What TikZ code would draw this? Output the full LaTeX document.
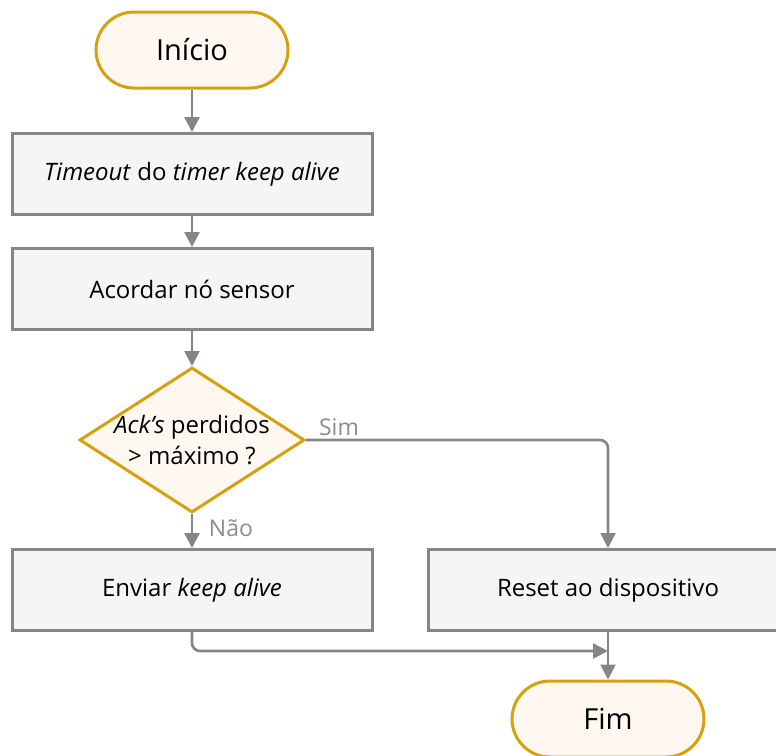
\documentclass[tikz,border=0pt]{standalone}
\usepackage{fontspec}
\setmainfont{Open Sans}
\usetikzlibrary{shapes.geometric,arrows.meta}
\definecolor{linegray}{HTML}{858585}
\definecolor{boxfill}{HTML}{F5F5F5}
\definecolor{gold}{HTML}{D6A00E}
\definecolor{cream}{HTML}{FFF8F0}
\definecolor{labelgray}{HTML}{8C8C8C}
\tikzset{
  terminal/.style={draw=gold, fill=cream, line width=3pt, rounded corners=38pt,
    minimum width=192pt, minimum height=76pt, inner sep=0pt, font=\fontsize{29}{34}\selectfont},
  process/.style={draw=linegray, fill=boxfill, line width=3pt,
    minimum width=360pt, minimum height=81pt, inner sep=0pt, font=\fontsize{24}{28}\selectfont},
  decision/.style={draw=gold, fill=cream, line width=3pt, diamond, aspect=1.55,
    minimum width=225pt, minimum height=145pt, inner sep=-12pt, align=center,
    font=\fontsize{24}{31}\selectfont},
  flow/.style={draw=linegray, line width=2.6pt, rounded corners=8pt,
    -{Triangle[length=15pt,width=15pt]}},
  branch/.style={text=labelgray, font=\fontsize{23}{27}\selectfont}
}
\begin{document}
\begin{tikzpicture}[x=1pt,y=-1pt]
  \useasboundingbox (0,0) rectangle (776,755);
  \clip (0,0) rectangle (776,755);
  \node[terminal] (start) at (192,50) {Início};
  \node[process] (timeout) at (192,174) {\textit{Timeout} do \textit{timer keep alive}};
  \node[process] (wake) at (192,289) {Acordar nó sensor};
  \node[decision] (check) at (192,440) {\textit{Ack’s} perdidos\\> máximo ?};
  \node[process] (send) at (192,590) {Enviar \textit{keep alive}};
  \node[process] (reset) at (608,590) {Reset ao dispositivo};
  \node[terminal] (end) at (608,719) {Fim};
  \coordinate (join) at (608,651);

  \draw[flow] (start) -- (timeout);
  \draw[flow] (timeout) -- (wake);
  \draw[flow] (wake) -- (check);
  \draw[flow] (check) -- (send);
  \node[branch] (nao) at (231,528) {Não};
  \draw[flow] (check.east) -- (reset.north |- check.east) -- (reset.north);
  \node[branch] (sim) at (339,427) {Sim};
  \draw[flow] (send.south) |- (join);
  \draw[flow] (reset.south) -- (end.north);
\end{tikzpicture}
\end{document}
